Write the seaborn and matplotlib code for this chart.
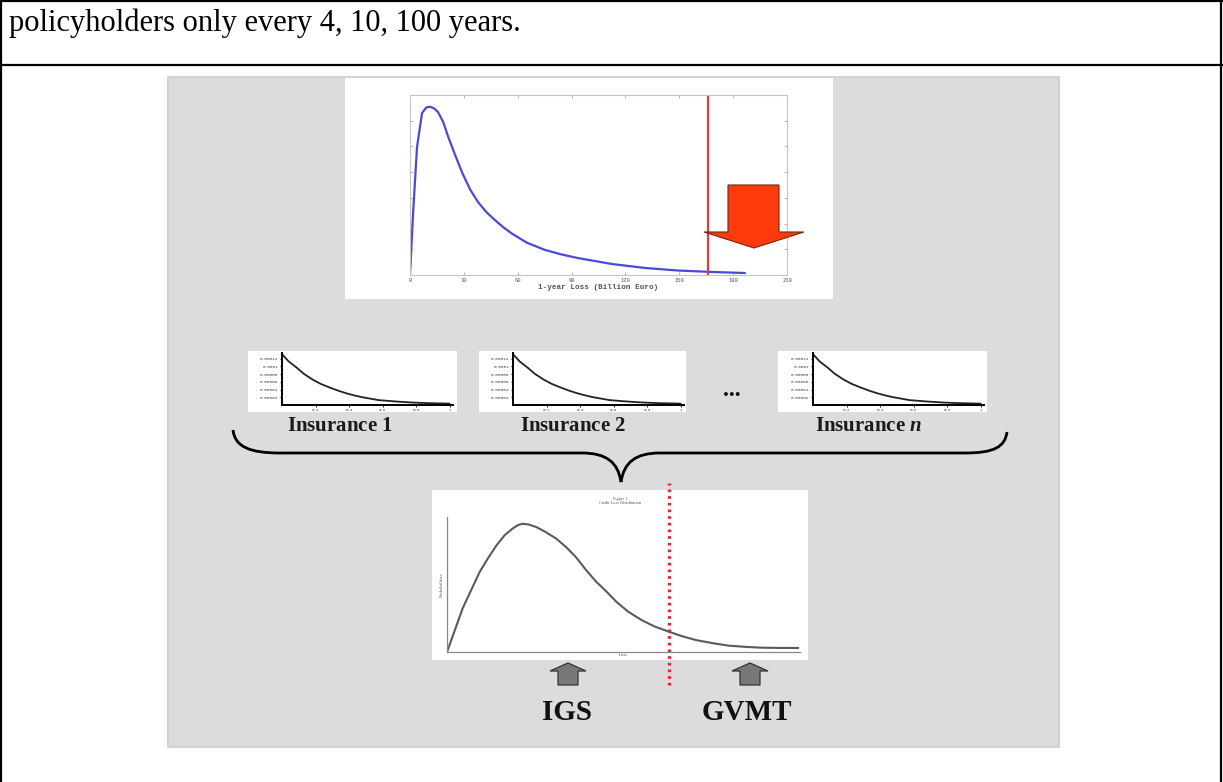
import numpy as np
import pandas as pd
import matplotlib
matplotlib.use("Agg")
import matplotlib.pyplot as plt
import seaborn as sns
from matplotlib.patches import Rectangle, Polygon, PathPatch
from matplotlib.path import Path

sns.set_theme(style="white")
plt.rcParams['font.family'] = ['Liberation Serif', 'DejaVu Serif']
plt.rcParams['mathtext.fontset'] = 'custom'
plt.rcParams['mathtext.it'] = 'Liberation Serif:italic:bold'
plt.rcParams['mathtext.rm'] = 'Liberation Serif:bold'

W, H = 1223, 782

# ---- data ----
# top panel: 1-year loss distribution
top_loss = [0, 1.7, 3.9, 6.7, 9.0, 11.1, 13.5, 15.6, 18.5, 21.2, 25.0, 29.0, 33.5, 37.9,
            42.5, 47.3, 52.0, 56.8, 65.0, 75.0, 84.0, 93.6, 112.5, 131.0, 149.0, 168.0, 186.6]
top_density = [0, .34, .71, .90, .93, .935, .925, .905, .85, .77, .67, .57, .475, .405,
               .35, .305, .265, .23, .18, .14, .115, .094, .061, .039, .025, .017, .011]
top_threshold = 166
top_xticks = [0, 30, 60, 90, 120, 150, 180, 210]
top_xlabel = "1-year Loss (Billion Euro)"

# small panels: single insurer loss densities
ins_x = [0, .04, .088, .13, .182, .23, .282, .33, .382, .43, .476, .576, .676, .77, .87, 1.0]
ins_y = [.000132, .000113, .0000968, .000081, .0000662, .000055, .0000458, .000038,
         .0000306, .000025, .0000204, .0000127, .0000092, .0000066, .0000048, .0000036]
ins_names = ['1', '2', 'n']
ins_yticks = [0.00002, 0.00004, 0.00006, 0.00008, 0.0001, 0.00012]
ins_yticklabels = ['0.00002', '0.00004', '0.00006', '0.00008', '0.0001', '0.00012']
ins_xticks = [0.2, 0.4, 0.6, 0.8, 1]

# bottom panel: aggregated credit loss distribution
agg_loss = [0, 4.5, 9.3, 11.8, 14.1, 16.4, 18.7, 20.2, 21.5, 23.2, 25.4, 28.0, 31.1, 34.0,
            36.8, 39.5, 42.5, 45.5, 48.1, 51.5, 55.5, 59.0, 63.2, 66.8, 70.8, 75.5, 80.2,
            85.0, 89.5, 95.0, 100]
agg_prob = [0, .326, .593, .70, .79, .865, .915, .94, .95, .945, .926, .89, .84, .775,
            .70, .61, .52, .445, .375, .30, .235, .19, .15, .118, .089, .066, .047,
            .038, .032, .030, .030]
agg_threshold = 63.2
agg_title = "Figure 1\nCredit Loss Distribution"
layer_labels = ['IGS', 'GVMT']

caption = "policyholders only every 4, 10, 100 years."


def px_rect(x0, y0, x1, y1):
    return [x0 / W, 1 - y1 / H, (x1 - x0) / W, (y1 - y0) / H]


fig = plt.figure(figsize=(W / 100, H / 100), dpi=100)
fig.patch.set_facecolor('white')

# background layer (table lines, grey panel, white boxes)
bg = fig.add_axes([0, 0, 1, 1], zorder=-5)
bg.set_xlim(0, W)
bg.set_ylim(H, 0)
bg.axis('off')
for xs, ys in [([1, 1], [0, H]), ([1221, 1221], [0, H]), ([0, W], [1, 1]), ([0, W], [65, 65])]:
    bg.plot(xs, ys, color='black', lw=1.6, solid_capstyle='butt')
bg.text(9, 23, caption, fontsize=22, va='center', ha='left', color='black')
bg.add_patch(Rectangle((168, 77), 891, 670, facecolor='#dcdcdc', edgecolor='#d2d2d2', lw=1.5))
for (x0, y0, x1, y1) in [(345, 78, 833, 299), (248, 351, 457, 412), (479, 351, 686, 412),
                         (778, 351, 987, 412), (432, 490, 808, 660)]:
    bg.add_patch(Rectangle((x0, y0), x1 - x0, y1 - y0, facecolor='white', edgecolor='none'))

# ---- top panel ----
ax_top = fig.add_axes(px_rect(410, 95, 787, 275))
df_top = pd.DataFrame({'loss': top_loss, 'density': top_density})
sns.lineplot(data=df_top, x='loss', y='density', ax=ax_top, color='#4a4ad8', lw=1.6)
ax_top.axvline(top_threshold, color='#e8393a', lw=1.6)
ax_top.set_xlim(0, 210)
ax_top.set_ylim(0, 1)
ax_top.set_xticks(top_xticks)
ax_top.set_xticklabels([str(t) for t in top_xticks], fontsize=4, color='#555555',
                       family='Liberation Mono')
ax_top.set_yticks(np.linspace(0, 1, 8))
ax_top.set_yticklabels([])
ax_top.tick_params(direction='in', length=2, width=0.5, color='#999999', top=True, right=True,
                   bottom=True, left=True, pad=2)
ax_top.set_xlabel(top_xlabel, fontsize=5.5, family='Liberation Mono', fontweight='bold',
                  color='#555555', labelpad=1)
ax_top.set_ylabel('')
for s in ax_top.spines.values():
    s.set_color('#c4c4c4')
    s.set_linewidth(0.8)

# ---- small insurer panels ----
df_ins = pd.DataFrame({'x': ins_x, 'y': ins_y})
ins_left = [282, 513, 813]
for left, name in zip(ins_left, ins_names):
    ax = fig.add_axes(px_rect(left, 353, left + 171, 405))
    sns.lineplot(data=df_ins, x='x', y='y', ax=ax, color='#222222', lw=1.3)
    ax.set_xlim(0, 1.02)
    ax.set_ylim(0, 0.000135)
    ax.set_yticks(ins_yticks)
    ax.set_yticklabels(ins_yticklabels, fontsize=3.2, family='Liberation Mono', color='#444444')
    ax.set_xticks(ins_xticks)
    ax.set_xticklabels([str(t) for t in ins_xticks], fontsize=3, family='Liberation Mono',
                       color='#444444')
    ax.tick_params(direction='out', length=1.5, width=0.6, color='black', pad=1,
                   left=True, bottom=True)
    ax.set_xlabel('')
    ax.set_ylabel('')
    ax.patch.set_alpha(0)
    for side in ['top', 'right']:
        ax.spines[side].set_visible(False)
    for side in ['left', 'bottom']:
        ax.spines[side].set_color('black')
        ax.spines[side].set_linewidth(1.4)

# ---- aggregated panel ----
ax_agg = fig.add_axes(px_rect(447, 517, 800, 652))
df_agg = pd.DataFrame({'loss': agg_loss, 'prob': agg_prob})
sns.lineplot(data=df_agg, x='loss', y='prob', ax=ax_agg, color='#5a5a5a', lw=1.5)
ax_agg.set_xlim(0, 100.5)
ax_agg.set_ylim(0, 1)
ax_agg.set_xticks([])
ax_agg.set_yticks([])
ax_agg.set_xlabel('Loss', fontsize=3.5, color='#555555', labelpad=1)
ax_agg.set_ylabel('Probabilities', fontsize=3.5, color='#555555', labelpad=2)
ax_agg.text(0.49, 1.12, agg_title, transform=ax_agg.transAxes, ha='center', va='center',
            fontsize=3.2, color='#555555', linespacing=0.9)
ax_agg.axvline(agg_threshold, ymin=-0.244, ymax=1.252, clip_on=False, color='#e4223a',
               lw=2.4, ls=(0, (0.8, 1.2)))
ax_agg.patch.set_alpha(0)
for side in ['top', 'right']:
    ax_agg.spines[side].set_visible(False)
for side in ['left', 'bottom']:
    ax_agg.spines[side].set_color('#888888')
    ax_agg.spines[side].set_linewidth(0.9)

# ---- overlay: brace, arrows, labels ----
ov = fig.add_axes([0, 0, 1, 1], zorder=10)
ov.set_xlim(0, W)
ov.set_ylim(H, 0)
ov.axis('off')
ov.patch.set_alpha(0)

# red down arrow in the top panel
ov.add_patch(Polygon([(728, 185), (779, 185), (779, 232), (804, 232), (754, 248),
                      (704, 232), (728, 232)], closed=True, facecolor='#ff3a0c',
                     edgecolor='#6b2a10', lw=0.8))

# curly brace
verts = [(233, 430), (235, 447), (250, 453), (280, 453),
         (582, 453),
         (606, 453), (618, 462), (621, 482),
         (624, 462), (636, 453), (660, 453),
         (965, 453),
         (994, 453), (1005, 447), (1007, 432)]
codes = [Path.MOVETO, Path.CURVE4, Path.CURVE4, Path.CURVE4,
         Path.LINETO,
         Path.CURVE4, Path.CURVE4, Path.CURVE4,
         Path.CURVE4, Path.CURVE4, Path.CURVE4,
         Path.LINETO,
         Path.CURVE4, Path.CURVE4, Path.CURVE4]
ov.add_patch(PathPatch(Path(verts, codes), facecolor='none', edgecolor='black', lw=2.0))

# insurer labels and ellipsis
for cx, name in zip([340, 573, 869], ins_names):
    ov.text(cx, 426, r"Insurance $\mathit{" + name + "}$", ha='center', va='center',
            fontsize=15, fontweight='bold', color='#1a1a1a')
ov.text(732, 390, '...', ha='center', va='center', fontsize=17, fontweight='bold',
        color='#111111')

# grey up arrows and layer labels
for cx, label in zip([568, 750], layer_labels):
    ov.add_patch(Polygon([(cx, 663), (cx + 18, 671), (cx + 10, 671), (cx + 10, 685),
                          (cx - 10, 685), (cx - 10, 671), (cx - 18, 671)], closed=True,
                         facecolor='#787878', edgecolor='#333333', lw=0.9))
    ov.text(cx - 1 if label == 'IGS' else cx - 3, 712, label, ha='center', va='center',
            fontsize=21, fontweight='bold', color='#111111')

fig.savefig('out.png', dpi=100)
